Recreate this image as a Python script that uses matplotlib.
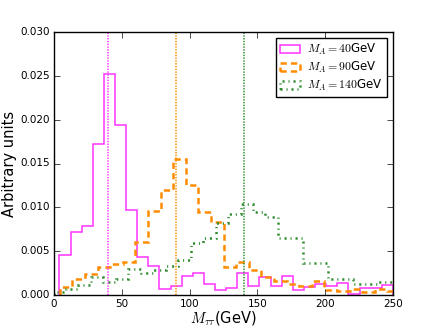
import numpy as np
import matplotlib
matplotlib.use("Agg")
import matplotlib.pyplot as plt

plt.style.use("classic")
plt.rcParams["mathtext.fontset"] = "cm"

# bin layout for each sample (start, width)
bins_40 = (4.0, 8.2)
vals_40 = [0.00456, 0.00715, 0.00784, 0.01722, 0.02521, 0.01936, 0.00973,
           0.0043, 0.00334, 0.00065, 0.00106, 0.0022, 0.00248, 0.00125,
           0.00057, 0.00083, 0.00248, 0.00106, 0.00202, 0.00106, 0.0022,
           0.00057, 0.00088, 0.00129, 0.00106, 0.00133, 0.0001, 0.00083,
           0.00083, 0.00114]

bins_90 = (4.2, 9.3)
vals_90 = [0.0009, 0.0018, 0.0024, 0.0032, 0.0035, 0.0038, 0.006, 0.0096,
           0.012, 0.0155, 0.0125, 0.0095, 0.0083, 0.0032, 0.0038, 0.0028,
           0.002, 0.0016, 0.0013, 0.001, 0.0016, 0.0006, 0.0004, 0.0007,
           0.0003, 0.0007, 0.0005]

bins_140 = (-0.4, 9.2)
vals_140 = [0.0003, 0.00065, 0.00114, 0.002, 0.00148, 0.00182, 0.00297,
            0.00247, 0.0029, 0.0033, 0.004, 0.0059, 0.0065, 0.0082, 0.0092,
            0.0104, 0.0095, 0.0089, 0.0065, 0.0065, 0.0037, 0.0037, 0.0018,
            0.0018, 0.0012, 0.0012, 0.0015, 0.0015]

masses = [40, 90, 140]
colors = ["#ff33ff", "#ff8c00", "#2e8b2e"]
styles = ["-", (0, (4.5, 3)), (0, (1.5, 2.8, 0.8, 2.8))]
widths = [1.1, 1.8, 1.8]


def edges_for(spec, n):
    start, w = spec
    return start + w * np.arange(n + 1)


fig, ax = plt.subplots(figsize=(4.36, 3.27), dpi=100)

for (spec, vals), m, c, ls, lw in zip(
    [(bins_40, vals_40), (bins_90, vals_90), (bins_140, vals_140)],
    masses, colors, styles, widths,
):
    edges = edges_for(spec, len(vals))
    centers = 0.5 * (edges[:-1] + edges[1:])
    ax.hist(centers, bins=edges, weights=vals, histtype="step",
            color=c, linestyle=ls, linewidth=lw,
            label=rf"$M_A={m}$GeV")

for m, c in zip(masses, colors):
    ax.axvline(m, color=c, linestyle=(0, (1, 1)), linewidth=1.1)

ax.set_xlim(0, 250)
ax.set_ylim(0, 0.030)
ax.set_xticks(np.arange(0, 251, 50))
ax.set_yticks(np.arange(0, 0.0301, 0.005))
ax.yaxis.set_major_formatter(matplotlib.ticker.FormatStrFormatter("%.3f"))
ax.tick_params(labelsize=7.5, pad=3)
ax.set_xlabel(r"$M_{\tau\tau}$(GeV)", fontsize=10.5, labelpad=0)
ax.set_ylabel("Arbitrary units", fontsize=10.5, labelpad=2)
ax.legend(loc="upper right", fontsize=8.5, labelspacing=0.25,
          handlelength=1.7, borderpad=0.35, handletextpad=0.6)

fig.subplots_adjust(left=0.124, right=0.901, bottom=0.098, top=0.902)
fig.savefig("out.png", dpi=100)
